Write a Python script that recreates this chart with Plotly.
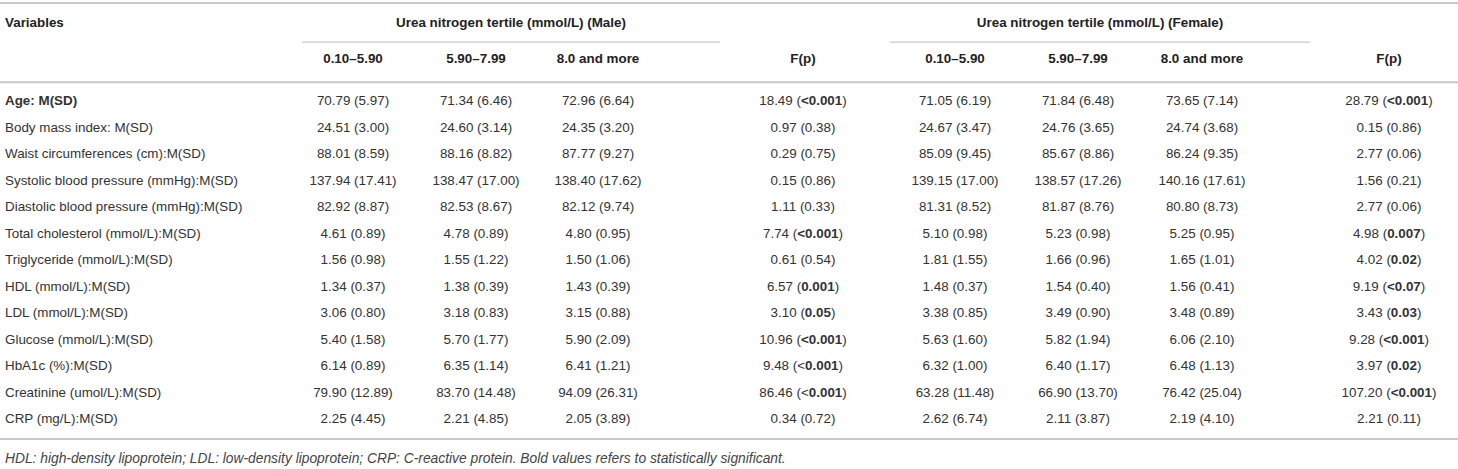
import plotly.graph_objects as go

# ── table content ──────────────────────────────
variables = [
    "<b>Age: M(SD)</b>",
    "Body mass index: M(SD)",
    "Waist circumferences (cm):M(SD)",
    "Systolic blood pressure (mmHg):M(SD)",
    "Diastolic blood pressure (mmHg):M(SD)",
    "Total cholesterol (mmol/L):M(SD)",
    "Triglyceride (mmol/L):M(SD)",
    "HDL (mmol/L):M(SD)",
    "LDL (mmol/L):M(SD)",
    "Glucose (mmol/L):M(SD)",
    "HbA1c (%):M(SD)",
    "Creatinine (umol/L):M(SD)",
    "CRP (mg/L):M(SD)",
]

male_t1 = ["70.79 (5.97)", "24.51 (3.00)", "88.01 (8.59)", "137.94 (17.41)", "82.92 (8.87)",
           "4.61 (0.89)", "1.56 (0.98)", "1.34 (0.37)", "3.06 (0.80)", "5.40 (1.58)",
           "6.14 (0.89)", "79.90 (12.89)", "2.25 (4.45)"]
male_t2 = ["71.34 (6.46)", "24.60 (3.14)", "88.16 (8.82)", "138.47 (17.00)", "82.53 (8.67)",
           "4.78 (0.89)", "1.55 (1.22)", "1.38 (0.39)", "3.18 (0.83)", "5.70 (1.77)",
           "6.35 (1.14)", "83.70 (14.48)", "2.21 (4.85)"]
male_t3 = ["72.96 (6.64)", "24.35 (3.20)", "87.77 (9.27)", "138.40 (17.62)", "82.12 (9.74)",
           "4.80 (0.95)", "1.50 (1.06)", "1.43 (0.39)", "3.15 (0.88)", "5.90 (2.09)",
           "6.41 (1.21)", "94.09 (26.31)", "2.05 (3.89)"]
male_fp = ["18.49 (<b><0.001</b>)", "0.97 (0.38)", "0.29 (0.75)", "0.15 (0.86)", "1.11 (0.33)",
           "7.74 (<b><0.001</b>)", "0.61 (0.54)", "6.57 (<b>0.001</b>)", "3.10 (<b>0.05</b>)",
           "10.96 (<b><0.001</b>)", "9.48 (<<b>0.001</b>)", "86.46 (<<b>0.001</b>)", "0.34 (0.72)"]

female_t1 = ["71.05 (6.19)", "24.67 (3.47)", "85.09 (9.45)", "139.15 (17.00)", "81.31 (8.52)",
             "5.10 (0.98)", "1.81 (1.55)", "1.48 (0.37)", "3.38 (0.85)", "5.63 (1.60)",
             "6.32 (1.00)", "63.28 (11.48)", "2.62 (6.74)"]
female_t2 = ["71.84 (6.48)", "24.76 (3.65)", "85.67 (8.86)", "138.57 (17.26)", "81.87 (8.76)",
             "5.23 (0.98)", "1.66 (0.96)", "1.54 (0.40)", "3.49 (0.90)", "5.82 (1.94)",
             "6.40 (1.17)", "66.90 (13.70)", "2.11 (3.87)"]
female_t3 = ["73.65 (7.14)", "24.74 (3.68)", "86.24 (9.35)", "140.16 (17.61)", "80.80 (8.73)",
             "5.25 (0.95)", "1.65 (1.01)", "1.56 (0.41)", "3.48 (0.89)", "6.06 (2.10)",
             "6.48 (1.13)", "76.42 (25.04)", "2.19 (4.10)"]
female_fp = ["28.79 (<b><0.001</b>)", "0.15 (0.86)", "2.77 (0.06)", "1.56 (0.21)", "2.77 (0.06)",
             "4.98 (<b>0.007</b>)", "4.02 (<b>0.02</b>)", "9.19 (<b><0.07</b>)", "3.43 (<b>0.03</b>)",
             "9.28 (<b><0.001</b>)", "3.97 (<b>0.02</b>)", "107.20 (<b><0.001</b>)", "2.21 (0.11)"]

group_headers = ["Urea nitrogen tertile (mmol/L) (Male)", "Urea nitrogen tertile (mmol/L) (Female)"]
col_headers = ["0.10–5.90", "5.90–7.99", "8.0 and more", "F(p)"]
footnote = ("HDL: high-density lipoprotein; LDL: low-density lipoprotein; "
            "CRP: C-reactive protein. Bold values refers to statistically significant.")

# ── layout (pixel-like x, row-index y) ─────────
W, H = 1458, 469
var_x = 5
male_x = [353, 476, 598, 803]
female_x = [955, 1078, 1202, 1389]
group_span = [(302, 720), (890, 1310)]
y_group, y_head = -2.94, -1.58
y_top, y_sub, y_mid, y_bot, y_note = -3.74, -2.26, -0.75, 12.72, 13.5

TXT = "#333333"
HEAD = "#222222"
RULE = "#c8c8c8"
FONT = "Liberation Sans, Arial, sans-serif"
FS = 13.4

rows = list(range(len(variables)))
fig = go.Figure()

fig.add_trace(go.Scatter(
    x=[var_x] * len(rows), y=rows, text=variables, mode="text",
    textposition="middle right", textfont=dict(size=FS, color=TXT, family=FONT),
    hoverinfo="skip"))

columns = [male_t1, male_t2, male_t3, male_fp, female_t1, female_t2, female_t3, female_fp]
for xc, col in zip(male_x + female_x, columns):
    fig.add_trace(go.Scatter(
        x=[xc] * len(rows), y=rows, text=col, mode="text",
        textposition="middle center", textfont=dict(size=FS, color=TXT, family=FONT),
        hoverinfo="skip"))

# header texts
fig.add_trace(go.Scatter(
    x=[var_x], y=[y_group], text=["<b>Variables</b>"], mode="text",
    textposition="middle right", textfont=dict(size=FS, color=HEAD, family=FONT),
    hoverinfo="skip"))
fig.add_trace(go.Scatter(
    x=[(a + b) / 2 for a, b in group_span], y=[y_group] * 2,
    text=["<b>%s</b>" % g for g in group_headers], mode="text",
    textposition="middle center", textfont=dict(size=FS, color=HEAD, family=FONT),
    hoverinfo="skip"))
fig.add_trace(go.Scatter(
    x=male_x + female_x, y=[y_head] * 8,
    text=["<b>%s</b>" % c for c in col_headers * 2], mode="text",
    textposition="middle center", textfont=dict(size=FS, color=HEAD, family=FONT),
    hoverinfo="skip"))
fig.add_trace(go.Scatter(
    x=[var_x], y=[y_note], text=["<i>%s</i>" % footnote], mode="text",
    textposition="middle right", textfont=dict(size=13.8, color="#444444", family=FONT),
    hoverinfo="skip"))

# rules
for yy in (y_top, y_mid, y_bot):
    fig.add_shape(type="line", x0=0, x1=W, y0=yy, y1=yy, xref="x", yref="y",
                  line=dict(color=RULE, width=2))
for a, b in group_span:
    fig.add_shape(type="line", x0=a, x1=b, y0=y_sub, y1=y_sub, xref="x", yref="y",
                  line=dict(color=RULE, width=1.2))

fig.update_layout(
    width=W, height=H,
    margin=dict(l=0, r=0, t=0, b=0),
    paper_bgcolor="white", plot_bgcolor="white",
    showlegend=False,
    xaxis=dict(range=[0, W], visible=False, fixedrange=True),
    yaxis=dict(range=[13.85, -3.85], visible=False, fixedrange=True),
)

fig.write_html("out.html", config={"displayModeBar": False},
               post_script="document.body.style.margin='0';")
